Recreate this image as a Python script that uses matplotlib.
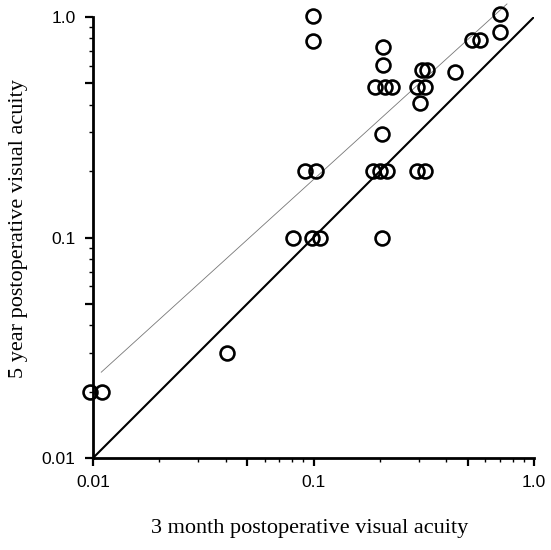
import numpy as np
import matplotlib.pyplot as plt
from matplotlib.ticker import FixedLocator, FixedFormatter, NullFormatter

# visual acuity, 3 months vs 5 years after surgery
va_3month = [0.0097, 0.011, 0.0405,
             0.0805, 0.098, 0.107, 0.205,
             0.0915, 0.103, 0.187, 0.200, 0.216, 0.294, 0.32,
             0.205, 0.304,
             0.19, 0.211, 0.226, 0.294, 0.32,
             0.207, 0.207,
             0.31, 0.326, 0.438,
             0.522, 0.569,
             0.70, 0.70,
             0.0998, 0.0998]
va_5year = [0.02, 0.02, 0.03,
            0.1, 0.1, 0.1, 0.1,
            0.2, 0.2, 0.2, 0.2, 0.2, 0.2, 0.2,
            0.295, 0.406,
            0.48, 0.48, 0.48, 0.48, 0.48,
            0.606, 0.733,
            0.575, 0.575, 0.565,
            0.79, 0.79,
            1.03, 0.858,
            1.01, 0.78]

# thin reference line end points
fit_x = [0.0109, 0.754]
fit_y = [0.0245, 1.146]

identity = [0.01, 1.0]

# 0.05 and 0.5 get long unlabelled ticks like the decades
major_ticks = [0.01, 0.05, 0.1, 0.5, 1.0]
tick_labels = ['0.01', '', '0.1', '', '1.0']

fig = plt.figure(figsize=(5.51, 5.5), dpi=100)
ax = fig.add_axes([93/551, 1-458/550, 441/551, 441/550])

ax.plot(identity, identity, color='black', lw=1.5, solid_capstyle='butt', zorder=2)
ax.plot(fit_x, fit_y, color='#777777', lw=0.6, zorder=2, clip_on=False)
ax.plot(va_3month, va_5year, 'o', ms=10, mfc='none', mec='black', mew=1.9,
        zorder=3, clip_on=False)

ax.set_xscale('log')
ax.set_yscale('log')
ax.set_xlim(0.01, 1.0)
ax.set_ylim(0.01, 1.0)

minor = [m * d for d in (0.01, 0.1) for m in (2, 3, 4, 6, 7, 8, 9)]
for axis in (ax.xaxis, ax.yaxis):
    axis.set_major_locator(FixedLocator(major_ticks))
    axis.set_major_formatter(FixedFormatter(tick_labels))
    axis.set_minor_locator(FixedLocator(minor))
    axis.set_minor_formatter(NullFormatter())

ax.tick_params(which='major', direction='out', length=5.5, width=1.6,
               labelsize=12.5, labelfontfamily='Liberation Sans')
ax.tick_params(axis='x', which='major', pad=7)
ax.tick_params(axis='y', which='major', pad=7)
ax.tick_params(which='minor', direction='out', length=3, width=1.0)

for side in ('top', 'right'):
    ax.spines[side].set_visible(False)
for side in ('left', 'bottom'):
    ax.spines[side].set_linewidth(2.0)

fig.text(310/551, 1-529/550, '3 month postoperative visual acuity',
         ha='center', va='center', family='Liberation Serif', fontsize=16)
fig.text(18.5/551, 1-229/550, '5 year postoperative visual acuity',
         ha='center', va='center', rotation=90, family='Liberation Serif', fontsize=16)

fig.savefig('out.png', dpi=100)
